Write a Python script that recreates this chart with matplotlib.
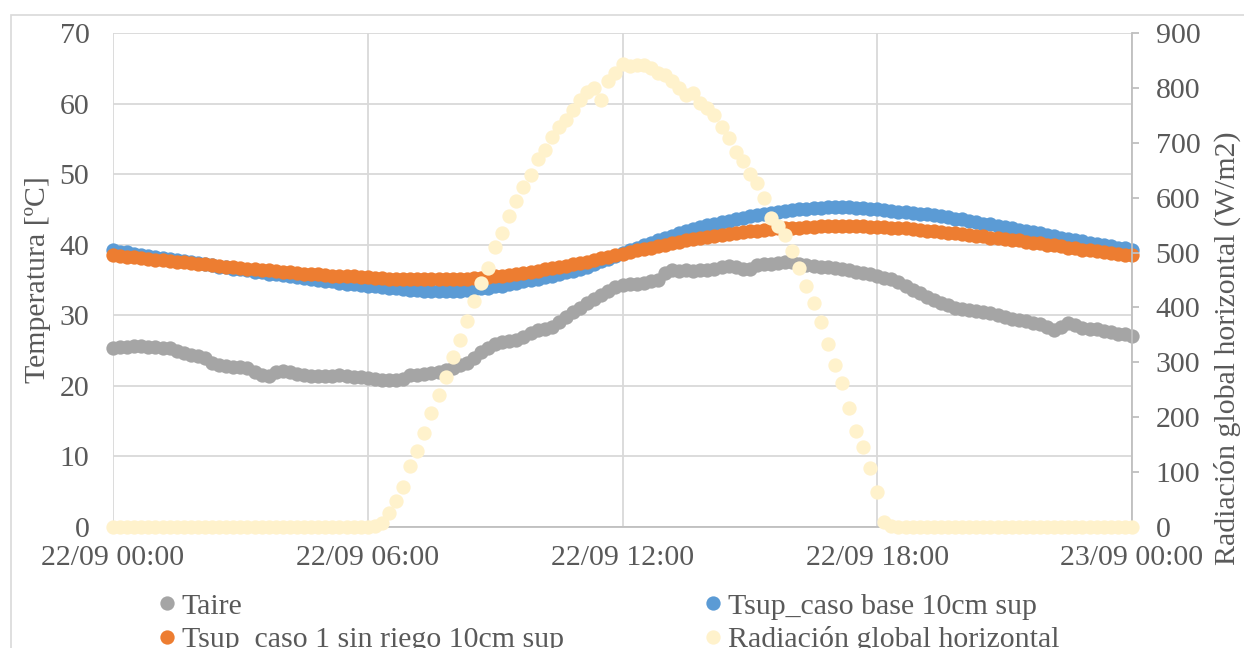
import numpy as np
import matplotlib
matplotlib.use('Agg')
import matplotlib.pyplot as plt
from matplotlib.patches import Rectangle

plt.rcParams['font.family'] = ['Liberation Serif', 'DejaVu Serif']

# 10-minute readings, 22/09 00:00 to 23/09 00:00 (145 points)
hours = np.arange(145) / 6.0

taire = [
    25.4, 25.5, 25.5, 25.6, 25.6, 25.5,
    25.5, 25.4, 25.3, 25.0, 24.6, 24.4,
    24.2, 24.0, 23.3, 22.9, 22.8, 22.7,
    22.7, 22.5, 22.0, 21.6, 21.4, 21.9,
    22.1, 21.9, 21.7, 21.5, 21.4, 21.4,
    21.4, 21.4, 21.5, 21.4, 21.3, 21.2,
    21.1, 21.0, 20.9, 20.8, 20.8, 21.0,
    21.5, 21.6, 21.7, 21.8, 21.9, 22.3,
    22.6, 22.9, 23.3, 24.0, 24.8, 25.4,
    26.0, 26.2, 26.3, 26.5, 26.9, 27.5,
    27.9, 28.0, 28.3, 29.0, 29.8, 30.4,
    31.0, 31.7, 32.3, 32.9, 33.5, 34.0,
    34.3, 34.4, 34.4, 34.6, 34.8, 35.0,
    36.0, 36.4, 36.3, 36.4, 36.3, 36.4,
    36.4, 36.5, 36.8, 37.0, 36.9, 36.6,
    36.5, 37.1, 37.2, 37.3, 37.4, 37.5,
    37.5, 37.3, 37.1, 37.0, 36.9, 36.8,
    36.7, 36.5, 36.4, 36.2, 36.0, 35.8,
    35.5, 35.3, 35.1, 34.7, 34.1, 33.6,
    33.1, 32.6, 32.2, 31.8, 31.4, 31.1,
    30.9, 30.7, 30.6, 30.4, 30.3, 30.1,
    29.8, 29.5, 29.4, 29.2, 28.9, 28.8,
    28.3, 27.9, 28.4, 28.9, 28.6, 28.2,
    28.0, 28.0, 27.8, 27.6, 27.4, 27.3,
    27.1,
]

tsup_base = [
    39.2, 39.0, 38.9, 38.7, 38.6, 38.4,
    38.3, 38.1, 38.0, 37.8, 37.7, 37.5,
    37.4, 37.2, 37.1, 36.9, 36.8, 36.6,
    36.5, 36.4, 36.2, 36.1, 35.9, 35.8,
    35.7, 35.5, 35.4, 35.3, 35.1, 35.0,
    34.9, 34.8, 34.6, 34.5, 34.4, 34.3,
    34.2, 34.1, 34.0, 33.9, 33.8, 33.7,
    33.6, 33.6, 33.5, 33.5, 33.5, 33.5,
    33.5, 33.5, 33.6, 33.7, 33.8, 33.9,
    34.1, 34.2, 34.4, 34.6, 34.8, 35.0,
    35.2, 35.4, 35.6, 35.9, 36.1, 36.3,
    36.6, 36.9, 37.3, 37.7, 38.0, 38.4,
    38.8, 39.2, 39.6, 40.0, 40.3, 40.7,
    41.0, 41.3, 41.6, 41.9, 42.2, 42.5,
    42.8, 43.0, 43.2, 43.4, 43.6, 43.8,
    44.0, 44.2, 44.3, 44.5, 44.6, 44.8,
    44.9, 45.0, 45.1, 45.2, 45.2, 45.3,
    45.3, 45.3, 45.3, 45.2, 45.2, 45.1,
    45.0, 44.9, 44.8, 44.7, 44.6, 44.5,
    44.4, 44.3, 44.2, 44.0, 43.9, 43.7,
    43.6, 43.4, 43.2, 43.0, 42.9, 42.7,
    42.5, 42.3, 42.1, 41.9, 41.8, 41.6,
    41.4, 41.2, 41.0, 40.8, 40.7, 40.5,
    40.3, 40.1, 40.0, 39.8, 39.6, 39.5,
    39.3,
]

tsup_caso1 = [
    38.5, 38.4, 38.3, 38.2, 38.1, 38.0,
    37.9, 37.8, 37.7, 37.6, 37.5, 37.4,
    37.3, 37.2, 37.1, 37.0, 36.9, 36.8,
    36.7, 36.6, 36.5, 36.4, 36.4, 36.3,
    36.2, 36.1, 36.0, 35.9, 35.9, 35.8,
    35.7, 35.6, 35.6, 35.5, 35.5, 35.4,
    35.4, 35.3, 35.3, 35.2, 35.2, 35.2,
    35.1, 35.1, 35.1, 35.1, 35.1, 35.1,
    35.1, 35.1, 35.2, 35.3, 35.3, 35.4,
    35.5, 35.6, 35.7, 35.9, 36.0, 36.1,
    36.3, 36.5, 36.7, 36.8, 37.0, 37.2,
    37.4, 37.6, 37.8, 38.1, 38.3, 38.5,
    38.7, 38.9, 39.2, 39.4, 39.6, 39.8,
    40.0, 40.2, 40.4, 40.6, 40.8, 40.9,
    41.1, 41.2, 41.4, 41.5, 41.6, 41.8,
    41.9, 42.0, 42.1, 42.2, 42.3, 42.3,
    42.4, 42.4, 42.5, 42.5, 42.6, 42.6,
    42.6, 42.6, 42.6, 42.6, 42.6, 42.5,
    42.5, 42.5, 42.4, 42.3, 42.3, 42.2,
    42.1, 42.0, 41.9, 41.8, 41.7, 41.6,
    41.5, 41.4, 41.3, 41.2, 41.0, 40.9,
    40.8, 40.7, 40.6, 40.4, 40.3, 40.2,
    40.0, 39.9, 39.8, 39.6, 39.5, 39.3,
    39.2, 39.1, 38.9, 38.8, 38.7, 38.6,
    38.5,
]

radiacion = (
    [0] * 36
    + [0, 2, 8, 25, 47, 73,
       111, 139, 172, 207, 240, 274,
       310, 341, 375, 412, 444, 471,
       511, 536, 567, 594, 620, 642,
       671, 687, 710, 728, 741, 760,
       778, 792, 799, 778, 813, 828,
       843, 840, 842, 842, 836, 827,
       823, 812, 799, 787, 790, 773,
       763, 751, 729, 709, 684, 666,
       643, 627, 599, 563, 548, 532,
       503, 471, 439, 408, 374, 333,
       295, 262, 217, 174, 146, 108,
       63, 9, 2, 0, 0, 0]
    + [0] * 31
)

xtick_labels = ['22/09 00:00', '22/09 06:00', '22/09 12:00', '22/09 18:00', '23/09 00:00']

text_color = '#595959'
grid_color = '#D9D9D9'
axis_color = '#BFBFBF'
fs = 21.5

fig = plt.figure(figsize=(12.44, 6.48), dpi=100)

# chart area border
fig.patches.append(Rectangle((11 / 1244, -0.1), 1.2, 1 - 15 / 648 + 0.1,
                             transform=fig.transFigure, fill=False,
                             edgecolor=grid_color, linewidth=1.2))

ax = fig.add_axes([113 / 1244, 1 - 527 / 648, (1132 - 113) / 1244, (527 - 33) / 648])
ax2 = ax.twinx()

ms = 10.3
h1, = ax.plot(hours, taire, 'o', ms=ms, color='#A5A5A5', mec='none', clip_on=False, zorder=3)
h2, = ax.plot(hours, tsup_base, 'o', ms=ms, color='#5B9BD5', mec='none', clip_on=False, zorder=4)
h3, = ax.plot(hours, tsup_caso1, 'o', ms=ms, color='#ED7D31', mec='none', clip_on=False, zorder=5)
h4, = ax2.plot(hours, radiacion, 'o', ms=ms, color='#FFF2CC', mec='none', clip_on=False, zorder=3)

ax.set_xlim(0, 24)
ax.set_ylim(0, 70)
ax2.set_ylim(0, 900)
ax.set_xticks([0, 6, 12, 18, 24])
ax.set_xticklabels(xtick_labels)
ax.set_yticks(range(0, 71, 10))
ax2.set_yticks(range(0, 901, 100))

ax.grid(True, color=grid_color, linewidth=1.3)
ax.set_axisbelow(True)
for sp in ['top', 'left', 'right']:
    ax.spines[sp].set_visible(False)
ax.spines['bottom'].set_color(axis_color)
ax.spines['bottom'].set_linewidth(1.3)
for sp in ['top', 'left', 'bottom']:
    ax2.spines[sp].set_visible(False)
ax2.spines['right'].set_color(axis_color)
ax2.spines['right'].set_linewidth(1.3)

ax.tick_params(axis='x', length=0, pad=13, labelsize=fs, labelcolor=text_color)
ax.tick_params(axis='y', length=0, pad=17, labelsize=fs, labelcolor=text_color)
ax2.tick_params(axis='y', length=5, width=1.3, color=axis_color, pad=12,
                labelsize=fs, labelcolor=text_color)

ax.set_ylabel('Temperatura [ºC]', fontsize=fs, color=text_color, labelpad=6)
# right axis title sits a little lower than the axis centre, as in the original
fig.text(1227 / 1244, 1 - 348 / 648, 'Radiación global horizontal (W/m2)',
         rotation=90, ha='center', va='center', fontsize=fs, color=text_color)

fig.legend([h1, h3, h2, h4],
           ['Taire', 'Tsup_caso 1 sin riego 10cm sup',
            'Tsup_caso base 10cm sup', 'Radiación global horizontal'],
           ncol=2, loc='upper left', bbox_to_anchor=(158 / 1244, 1 - 593 / 648),
           frameon=False, fontsize=fs, labelcolor=text_color,
           handlelength=0.6, handletextpad=0.2, columnspacing=4.7,
           labelspacing=0.22, borderpad=0, borderaxespad=0)

fig.savefig('out.png', dpi=100)
